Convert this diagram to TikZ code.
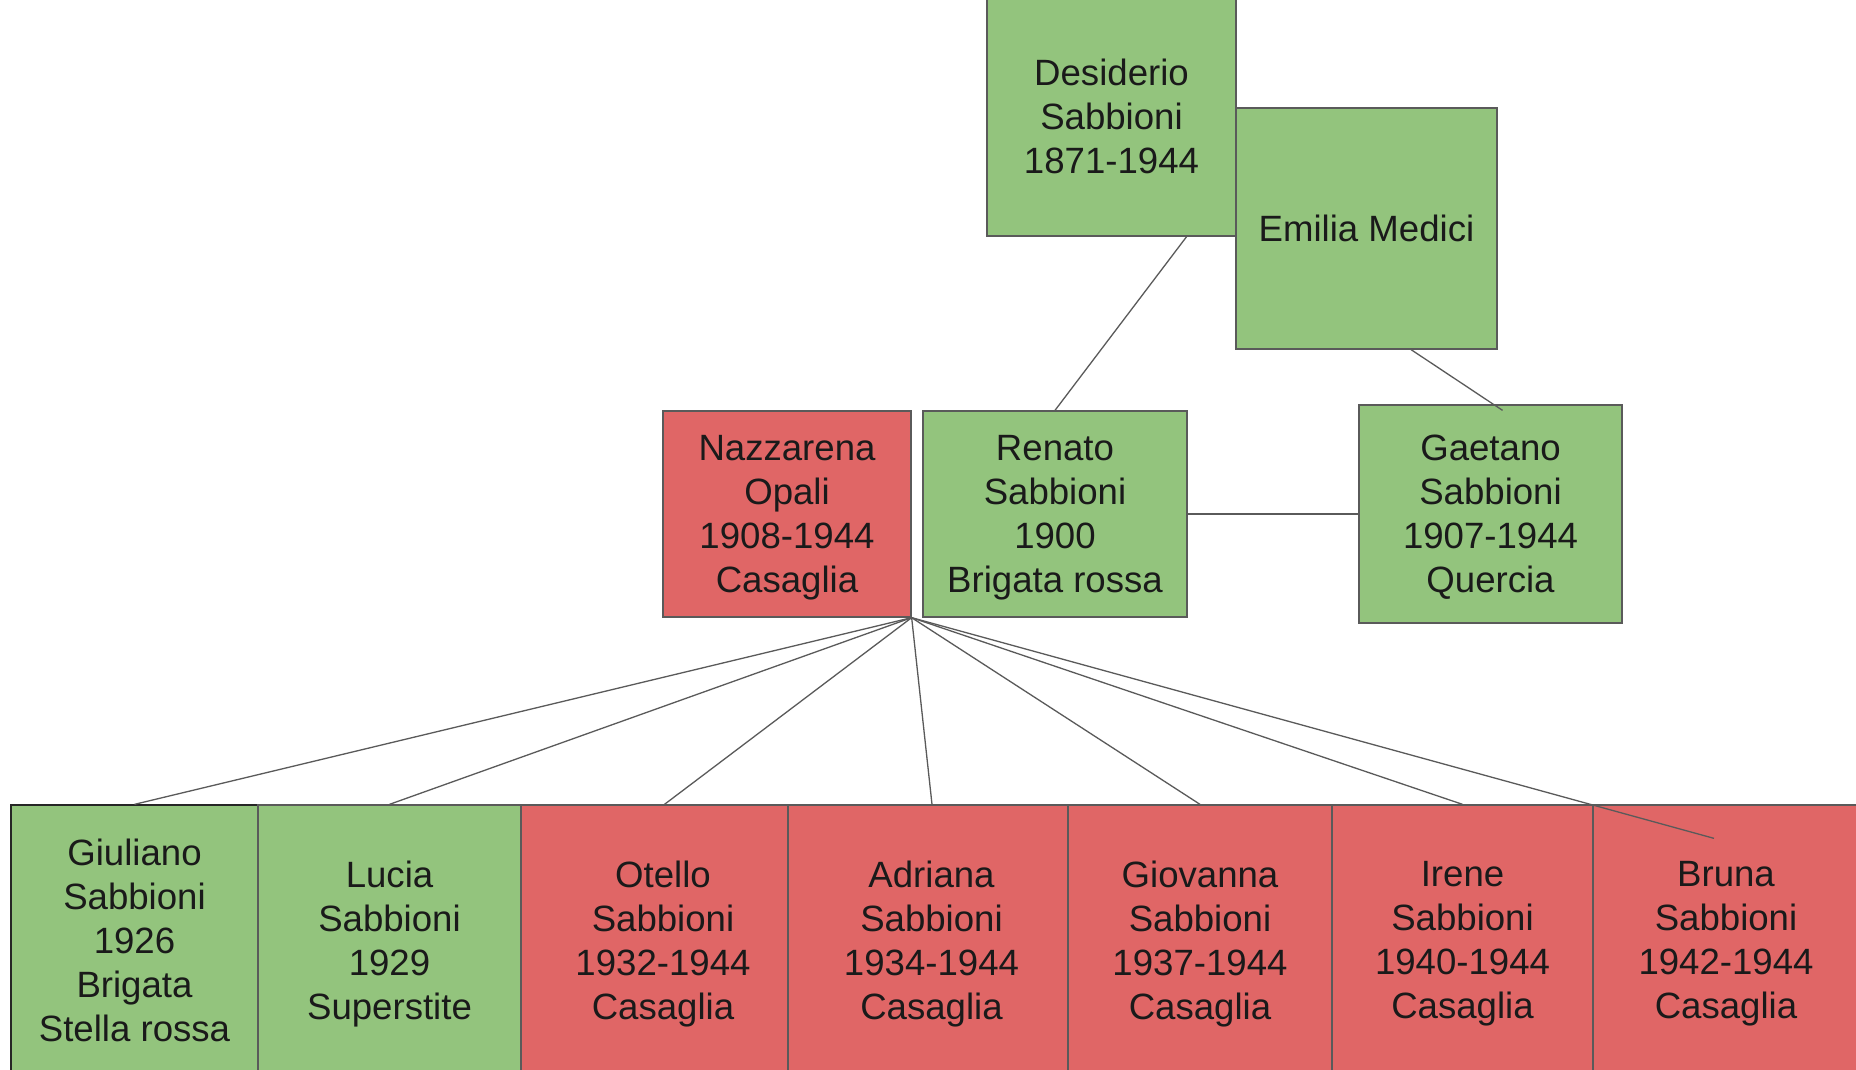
\documentclass[tikz,border=0pt]{standalone}
\usepackage{fontspec}
\setmainfont{Liberation Sans}
\usetikzlibrary{calc}
\definecolor{gfill}{HTML}{93C47D}
\definecolor{rfill}{HTML}{E06666}
\definecolor{edgec}{HTML}{5A5A5A}
\definecolor{txt}{HTML}{1A1A1A}
\newcommand{\ind}[1]{\hspace*{#1}}
\begin{document}
\begin{tikzpicture}[x=1pt,y=-1pt,
  person/.style={draw=edgec, line width=1.3pt, inner sep=0pt, align=center,
    font=\fontsize{36.6}{44}\selectfont, text=txt, text depth=0pt},
  alive/.style={person, fill=gfill},
  dead/.style={person, fill=rfill},
  link/.style={draw=edgec, line width=1.3pt}]
\useasboundingbox[fill=white] (0,0) rectangle (1856,1070);
% top generation
\node[alive, text depth=, minimum width=249pt, minimum height=240pt] (desiderio) at (1111.5,116) {Desiderio\\Sabbioni\\1871-1944};
\node[alive, minimum width=261pt, minimum height=241pt] (emilia) at (1366.5,228.5) {Emilia Medici};
% middle generation
\node[dead, minimum width=248pt, minimum height=206pt] (nazzarena) at (787,514) {Nazzarena\\Opali\\1908-1944\\Casaglia};
\node[alive, minimum width=264pt, minimum height=206pt] (renato) at (1055,514) {Renato\\Sabbioni\\1900\\Brigata rossa};
\node[alive, minimum width=263pt, minimum height=218pt] (gaetano) at (1490.5,514) {Gaetano\\Sabbioni\\1907-1944\\Quercia};
% children
\node[alive, text depth=, draw=black!85, minimum width=247pt, minimum height=270pt] (giuliano) at (134.5,940) {Giuliano\\Sabbioni\\1926\\Brigata\\Stella rossa};
\node[alive, minimum width=263pt, minimum height=270pt] (lucia) at (389.5,940) {Lucia\\Sabbioni\\1929\\Superstite};
\node[dead, minimum width=267pt, minimum height=270pt] (otello) at (654.5,940) {\ind{17pt}Otello\\\ind{17pt}Sabbioni\\\ind{17pt}1932-1944\\\ind{17pt}Casaglia};
\node[dead, minimum width=280pt, minimum height=270pt] (adriana) at (928,940) {\ind{7pt}Adriana\\\ind{7pt}Sabbioni\\\ind{7pt}1934-1944\\\ind{7pt}Casaglia};
\node[dead, minimum width=264pt, minimum height=270pt] (giovanna) at (1200,940) {Giovanna\\Sabbioni\\1937-1944\\Casaglia};
\node[dead, minimum width=261pt, minimum height=270pt] (irene) at (1462.5,940) {Irene\\Sabbioni\\1940-1944\\Casaglia};
\node[dead, minimum width=266pt, minimum height=270pt] (bruna) at (1726,940) {Bruna\\Sabbioni\\1942-1944\\Casaglia};
% connectors
\draw[link] ($(desiderio.south west)!0.8!(desiderio.south east)$) -- (renato.north);
\draw[link] ($(emilia.south west)!0.67!(emilia.south east)$) -- ([xshift=12pt,yshift=-6pt]gaetano.north);
\draw[link] (renato.east) -- (gaetano.west);
\foreach \c in {giuliano,lucia,giovanna,irene}
  \draw[link] (nazzarena.south east) -- (\c.north);
\draw[link] (nazzarena.south east) -- ([xshift=10pt]otello.north);
\draw[link] (nazzarena.south east) -- ([xshift=4pt]adriana.north);
\draw[link] (nazzarena.south east) -- ([xshift=-12pt,yshift=-34pt]bruna.north);
\end{tikzpicture}
\end{document}
